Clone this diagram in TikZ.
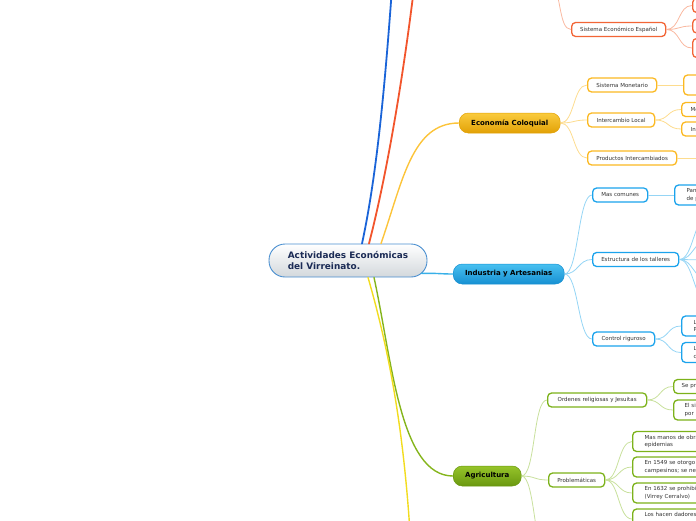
\documentclass[tikz,border=0pt]{standalone}
\usepackage{fontspec}
\setmainfont{DejaVu Sans}
\usetikzlibrary{calc}
\definecolor{txt}{HTML}{333333}
\definecolor{redM}{HTML}{F2552C}
\definecolor{redB}{HTML}{F26536}
\definecolor{redL}{HTML}{F9B8A0}
\definecolor{goldM}{HTML}{FCC43A}
\definecolor{goldT}{HTML}{FACB3E}
\definecolor{goldBt}{HTML}{E2A106}
\definecolor{goldB}{HTML}{FBB922}
\definecolor{goldL}{HTML}{FDDC8E}
\definecolor{indM}{HTML}{38B0E8}
\definecolor{indT}{HTML}{48C0F0}
\definecolor{indBt}{HTML}{1690D2}
\definecolor{indB}{HTML}{1BA3EC}
\definecolor{indL}{HTML}{95D5F5}
\definecolor{agrM}{HTML}{85B51C}
\definecolor{agrT}{HTML}{96C42A}
\definecolor{agrBt}{HTML}{6A9810}
\definecolor{agrB}{HTML}{7CB21A}
\definecolor{agrL}{HTML}{C8E09C}
\definecolor{yelM}{HTML}{F2DC1E}
\definecolor{bluM}{HTML}{1A64D8}
\definecolor{cenB}{HTML}{4A8FD0}
\definecolor{cenBot}{HTML}{D3D8DC}
\definecolor{cenTxt}{HTML}{1B2B55}
\begin{document}
\begin{tikzpicture}[x=1pt,y=-1pt,
  sub/.style={draw=#1, line width=1.3pt, fill=white, rounded corners=4pt, minimum height=14pt, inner sep=0pt, font=\fontsize{5.5}{7.5}\selectfont, text=txt, anchor=west},
  subp/.style={sub=#1, align=left, text width=120pt},
  mainnode/.style={rounded corners=9pt, minimum height=20pt, inner sep=0pt, font=\fontsize{7}{8}\selectfont\bfseries, text=black, anchor=west, line width=0.5pt},
  conn/.style={draw=#1, line width=0.8pt},
  branch/.style={draw=#1, line width=1.8pt, line cap=round},
]
\useasboundingbox (0,0) rectangle (696,520);
\clip (0,0) rectangle (696,520);

% central
\node[draw=cenB, line width=0.9pt, top color=white, bottom color=cenBot, rounded corners=16pt,
      minimum height=33pt, minimum width=158pt, inner sep=0pt, align=left,
      font=\fontsize{8.9}{11}\selectfont\bfseries, text=cenTxt] (root) at (348,260.5)
      {Actividades Económicas\\del Virreinato.};

% main nodes
\node[mainnode, top color=goldT, bottom color=goldBt, draw=goldBt, minimum width=101pt] (eco) at (459,123) {Economía Coloquial};
\node[mainnode, top color=indT, bottom color=indBt, draw=indBt, minimum width=111pt] (ind) at (453,274) {Industria y Artesanias};
\node[mainnode, top color=agrT, bottom color=agrBt, draw=agrBt, minimum width=68pt] (agr) at (453,476) {Agricultura};

\coordinate (bt) at (392,-12);
\coordinate (rt) at (414,-12);
\coordinate (yb) at (410,532);

% main branches
\draw[branch=bluM] ($(root.north)+(14,0)$) .. controls (378,170) and (386,70) .. (bt);
\draw[branch=redM] ($(root.north)+(21,0)$) .. controls (388,170) and (404,70) .. (rt);
\draw[branch=goldM, line width=1.4pt] ($(root.north)+(33,0)$) .. controls (403,180) and (412,123) .. (eco.west);
\draw[branch=indM, line width=1.4pt] ($(root.south east)+(-6,-4)$) .. controls (438,273) and (440,274) .. (ind.west);
\draw[branch=agrM, line width=1.4pt] ($(root.south)+(26,0)$) .. controls (392,360) and (400,476) .. (agr.west);
\draw[branch=yelM, line width=1.4pt] ($(root.south)+(20,0)$) .. controls (392,360) and (404,440) .. (yb);

% red group
\node[sub=redB, minimum width=94pt] (see) at (571,29.5) {Sistema Económico Español};
\node[subp=redB, inner xsep=8pt] (see1) at (692,5.5) {};
\node[subp=redB, inner xsep=8pt] (see2) at (692,26) {};
\node[subp=redB, inner xsep=8pt, minimum height=19pt] (see3) at (692,48) {};
\coordinate (seep) at (548,-30);
\draw[conn=redL] (seep) .. controls (562,-10) and (558,29.5) .. (see.west);
\foreach \c in {see1,see2,see3}
  \draw[conn=redL] (see.east) .. controls +(14,0) and +(-14,0) .. (\c.west);

% gold group
\node[sub=goldB, minimum width=69pt] (sm) at (587,85) {Sistema Monetario};
\node[sub=goldB, minimum width=67pt] (il) at (587,120) {Intercambio Local};
\node[sub=goldB, minimum width=89pt] (pi) at (587,158) {Productos Intercambiados};
\node[subp=goldB, minimum height=20pt, inner xsep=9pt] (sm1) at (683,85) {};
\node[subp=goldB, inner xsep=9pt] (il1) at (681,109.5) {Me};
\node[subp=goldB, inner xsep=9pt] (il2) at (681,129) {In};
\coordinate (pi1) at (710,158);
\foreach \c in {sm,il,pi}
  \draw[conn=goldL] (eco.east) .. controls +(14,0) and +(-14,0) .. (\c.west);
\draw[conn=goldL] (sm.east) -- (sm1.west);
\draw[conn=goldL] (il.east) .. controls +(14,0) and +(-14,0) .. (il1.west);
\draw[conn=goldL] (il.east) .. controls +(14,0) and +(-14,0) .. (il2.west);
\draw[conn=goldL] (pi.east) -- (pi1);

% blue group
\node[sub=indB, minimum width=55pt] (mc) at (592,195) {Mas comunes};
\node[sub=indB, minimum width=86pt] (et) at (592,259.5) {Estructura de los talleres};
\node[sub=indB, minimum width=62pt] (cr) at (592,339) {Control riguroso};
\node[subp=indB, minimum height=20pt, inner xsep=12pt] (mc1) at (674,195) {Pan\\de p};
\node[subp=indB, minimum height=20pt, inner xsep=12pt] (cr1) at (681,326) {L\\P};
\node[subp=indB, minimum height=20pt, inner xsep=12pt] (cr2) at (681,352.5) {L\\c};
\coordinate (et1) at (708,216);
\coordinate (et2) at (708,240);
\coordinate (et3) at (708,260);
\coordinate (et4) at (708,280);
\coordinate (et5) at (708,302);
\foreach \c in {mc,et,cr}
  \draw[conn=indL] (ind.east) .. controls +(14,0) and +(-14,0) .. (\c.west);
\draw[conn=indL] (mc.east) -- (mc1.west);
\foreach \c in {et1,et2,et3,et4,et5}
  \draw[conn=indL] (et.east) .. controls +(14,0) and +(-14,0) .. (\c);
\draw[conn=indL] (cr.east) .. controls +(14,0) and +(-14,0) .. (cr1.west);
\draw[conn=indL] (cr.east) .. controls +(14,0) and +(-14,0) .. (cr2.west);

% green group
\node[sub=agrB, minimum width=99pt] (or) at (547,400) {Ordenes religiosas y Jesuitas};
\node[sub=agrB, minimum width=56pt] (pr) at (548,480) {Problemáticas};
\coordinate (agr3) at (548,560);
\node[subp=agrB, inner xsep=8pt] (or1) at (673,386.5) {Se pr};
\node[subp=agrB, minimum height=20pt, inner xsep=11pt] (or2) at (673,410) {El si\\por};
\node[subp=agrB, minimum height=20pt, inner xsep=12pt] (pr1) at (632,441.5) {Mas manos de obra\\epidemias};
\node[subp=agrB, minimum height=20pt, inner xsep=12pt] (pr2) at (632,467) {En 1549 se otorgo\\campesinos; se ne};
\node[subp=agrB, minimum height=20pt, inner xsep=12pt] (pr3) at (632,493) {En 1632 se prohibi\\(Virrey Cerralvo)};
\node[subp=agrB, minimum height=20pt, inner xsep=12pt] (pr4) at (632,519) {Los hacen dadores\\\strut};
\foreach \c in {or,pr}
  \draw[conn=agrL] (agr.east) .. controls +(14,0) and +(-14,0) .. (\c.west);
\draw[conn=agrL] (agr.east) .. controls +(14,0) and +(-14,0) .. (agr3);
\foreach \c in {or1,or2}
  \draw[conn=agrL] (or.east) .. controls +(14,0) and +(-14,0) .. (\c.west);
\foreach \c in {pr1,pr2,pr3,pr4}
  \draw[conn=agrL] (pr.east) .. controls +(14,0) and +(-14,0) .. (\c.west);
\end{tikzpicture}
\end{document}
